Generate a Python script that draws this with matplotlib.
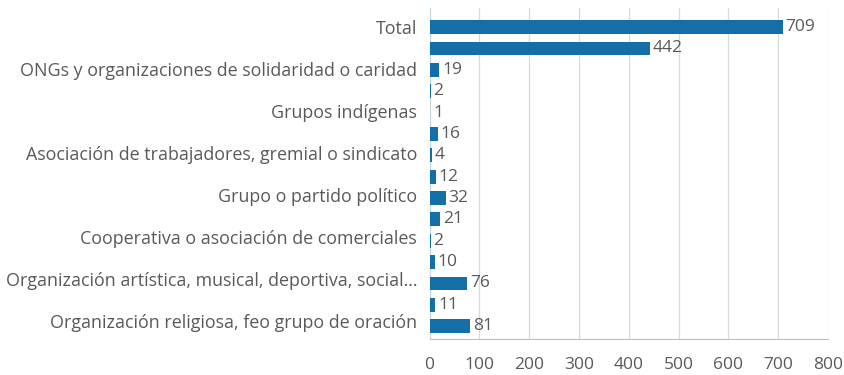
import matplotlib.pyplot as plt
import numpy as np

# category names (one label for every two bars, Total has its own)
categories = ['Total',
              'ONGs y organizaciones de solidaridad o caridad',
              'Grupos indígenas',
              'Asociación de trabajadores, gremial o sindicato',
              'Grupo o partido político',
              'Cooperativa o asociación de comerciales',
              'Organización artística, musical, deportiva, social...',
              'Organización religiosa, feo grupo de oración']

# bar values, top to bottom
values = [709, 442, 19, 2, 1, 16, 4, 12, 32, 21, 2, 10, 76, 11, 81]

x_ticks = [0, 100, 200, 300, 400, 500, 600, 700, 800]

bar_color = '#146fa8'
text_color = '#595959'

plt.rcParams['font.family'] = ['Open Sans', 'DejaVu Sans']

fig = plt.figure(figsize=(8.44, 3.75), dpi=100)
ax = fig.add_axes([0.509, 0.096, 0.472, 0.883])

pos = np.arange(len(values))
ax.barh(pos, values, height=0.65, color=bar_color, zorder=3)

for p, v in zip(pos, values):
    ax.text(v + 6, p, str(v), va='center', ha='left', fontsize=12.5,
            color=text_color, zorder=4)

ax.set_xlim(0, 800)
ax.set_ylim(14.6, -0.9)
ax.set_xticks(x_ticks)
ax.set_xticklabels([str(t) for t in x_ticks], fontsize=12.5, color=text_color)

label_pos = [0, 2, 4, 6, 8, 10, 12, 14]
ax.set_yticks([p - 0.1 * (i / 3) for i, p in enumerate(label_pos)])
ax.set_yticklabels(categories, fontsize=12.9, color=text_color)

ax.tick_params(axis='both', length=0)
ax.tick_params(axis='x', pad=13)
ax.tick_params(axis='y', pad=9)

ax.grid(axis='x', color='#d9d9d9', linewidth=0.9, zorder=0)
for s in ['top', 'right']:
    ax.spines[s].set_visible(False)
ax.spines['bottom'].set_color('#bfbfbf')
ax.spines['left'].set_color('#c8d6e0')

fig.savefig('out.png', dpi=100)
